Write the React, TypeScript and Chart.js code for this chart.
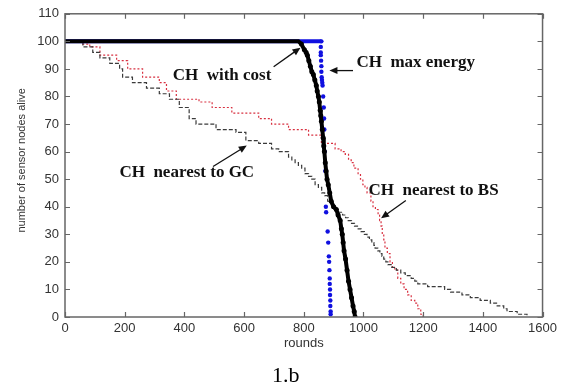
import React, { useEffect, useRef } from "react";
import { Chart, registerables } from "chart.js";

Chart.register(...registerables);

// ---- data ----
const xTickValues = [0, 200, 400, 600, 800, 1000, 1200, 1400, 1600];
const yTickValues = [0, 10, 20, 30, 40, 50, 60, 70, 80, 90, 100, 110];

const costRounds = [0, 782, 792, 802, 808, 812, 817, 822, 827, 832, 837, 842, 845, 849, 852, 855, 857, 859, 862, 865, 867, 869, 872, 875, 878, 882, 887, 892, 900, 909, 915, 922, 926, 929, 932, 935, 940, 945, 950, 955, 960, 965, 969, 972];
const costAlive = [100, 100, 99, 97, 96, 95, 93, 91, 89, 88, 86, 84, 82, 80, 78, 75, 73, 71, 68, 65, 62, 60, 56, 53, 50, 48, 45, 42, 40, 39, 37, 35, 32, 30, 27, 24, 21, 17, 13, 10, 7, 4, 2, 0];

const maxEnergyRounds = [0, 859, 857, 857, 857, 858, 859, 859, 860, 861, 862, 863, 865, 867, 868, 869, 870, 872, 874, 875, 880, 882, 884, 885, 886, 887, 887, 888, 888, 889, 889, 890, 890];
const maxEnergyAlive = [100, 100, 98, 96, 95, 93, 91, 89, 87, 86, 85, 84, 80, 76, 72, 68, 60, 53, 40, 38, 31, 27, 22, 20, 17, 14, 12, 10, 8, 6, 4, 2, 1];

const bsRounds = [0, 55, 60, 83, 117, 173, 210, 260, 316, 340, 373, 449, 493, 559, 649, 692, 749, 816, 859, 905, 925, 939, 950, 959, 968, 982, 990, 998, 1005, 1012, 1025, 1032, 1040, 1049, 1054, 1059, 1063, 1068, 1072, 1080, 1089, 1097, 1105, 1115, 1125, 1136, 1148, 1160, 1172, 1182, 1192, 1200];
const bsAlive = [100, 100, 99, 98, 95, 93, 90, 87, 85, 82, 79, 78, 76, 74, 72, 70, 68, 66, 63, 61, 60, 59, 57, 56, 54, 52, 50, 48, 47, 45, 42, 40, 39, 37, 35, 33, 30, 28, 25, 23, 20, 18, 17, 14, 12, 10, 8, 6, 5, 3, 1, 0];

const gcRounds = [0, 55, 60, 93, 117, 150, 183, 193, 226, 273, 316, 350, 383, 416, 439, 506, 573, 606, 649, 692, 716, 749, 760, 771, 782, 793, 804, 816, 827, 838, 849, 860, 870, 880, 892, 905, 918, 930, 940, 949, 960, 970, 980, 992, 1003, 1012, 1020, 1028, 1035, 1039, 1048, 1055, 1062, 1068, 1075, 1082, 1095, 1110, 1125, 1140, 1160, 1172, 1182, 1215, 1272, 1292, 1330, 1358, 1391, 1425, 1448, 1470, 1481, 1515, 1548];
const gcAlive = [100, 100, 98, 96, 94, 92, 90, 87, 85, 83, 81, 79, 76, 72, 70, 68, 67, 64, 63, 61, 60, 58, 57, 56, 55, 54, 52, 51, 50, 48, 47, 45, 44, 42, 40, 39, 38, 37, 36, 35, 34, 33, 32, 31, 30, 29, 28, 27, 26, 25, 24, 23, 22, 21, 20, 19, 18, 17, 16, 15, 14, 13, 12, 11, 10, 9, 8, 7, 6, 5, 4, 3, 2, 1, 0];

const annotationTexts = ["CH  with cost", "CH  max energy", "CH  nearest to GC", "CH  nearest to BS"];
const annotationTextAt = [[526, 87.6], [1175, 92.3], [408, 52.4], [1235, 45.9]];
const arrowFrom = [[699, 90.8], [965, 89.4], [496, 54.6], [1142, 42.3]];
const arrowTo = [[789, 97.7], [886, 89.4], [609, 62.2], [1059, 35.8]];

const xTitle = "rounds";
const yTitle = "number of sensor nodes alive";
const caption = "1.b";

const toXY = (xs: number[], ys: number[]) => xs.map((x, i) => ({ x, y: ys[i] }));

const overlayPlugin = {
  id: "overlay",
  afterDraw(chart: any) {
    const ctx = chart.ctx as CanvasRenderingContext2D;
    const { left, right, top, bottom } = chart.chartArea;
    const xs = chart.scales.x;
    const ys = chart.scales.y;
    ctx.save();
    // box
    ctx.strokeStyle = "#666";
    ctx.lineWidth = 1.5;
    ctx.strokeRect(left, top, right - left, bottom - top);
    // inward ticks
    ctx.lineWidth = 1.2;
    const tl = 5;
    ctx.beginPath();
    xTickValues.forEach((v) => {
      const p = Math.round(xs.getPixelForValue(v)) + 0.5;
      ctx.moveTo(p, bottom);
      ctx.lineTo(p, bottom - tl);
      ctx.moveTo(p, top);
      ctx.lineTo(p, top + tl);
    });
    yTickValues.forEach((v) => {
      const p = Math.round(ys.getPixelForValue(v)) + 0.5;
      ctx.moveTo(left, p);
      ctx.lineTo(left + tl, p);
      ctx.moveTo(right, p);
      ctx.lineTo(right - tl, p);
    });
    ctx.stroke();

    // annotations
    ctx.fillStyle = "#111";
    ctx.strokeStyle = "#111";
    ctx.font = "bold 17px 'Liberation Serif'";
    ctx.textAlign = "center";
    ctx.textBaseline = "middle";
    annotationTexts.forEach((t, i) => {
      ctx.fillText(t, xs.getPixelForValue(annotationTextAt[i][0]), ys.getPixelForValue(annotationTextAt[i][1]));
      const x1 = xs.getPixelForValue(arrowFrom[i][0]);
      const y1 = ys.getPixelForValue(arrowFrom[i][1]);
      const x2 = xs.getPixelForValue(arrowTo[i][0]);
      const y2 = ys.getPixelForValue(arrowTo[i][1]);
      const ang = Math.atan2(y2 - y1, x2 - x1);
      const hl = 8;
      const hw = 3.5;
      ctx.lineWidth = 1.3;
      ctx.beginPath();
      ctx.moveTo(x1, y1);
      ctx.lineTo(x2 - Math.cos(ang) * hl * 0.8, y2 - Math.sin(ang) * hl * 0.8);
      ctx.stroke();
      ctx.beginPath();
      ctx.moveTo(x2, y2);
      ctx.lineTo(x2 - Math.cos(ang) * hl - Math.sin(ang) * hw, y2 - Math.sin(ang) * hl + Math.cos(ang) * hw);
      ctx.lineTo(x2 - Math.cos(ang) * hl + Math.sin(ang) * hw, y2 - Math.sin(ang) * hl - Math.cos(ang) * hw);
      ctx.closePath();
      ctx.fill();
    });

    // axis titles
    ctx.fillStyle = "#333";
    ctx.font = "13px 'Liberation Sans'";
    ctx.textAlign = "center";
    ctx.textBaseline = "middle";
    ctx.fillText(xTitle, (left + right) / 2, bottom + 26);
    ctx.save();
    ctx.translate(left - 43, (top + bottom) / 2 - 5);
    ctx.rotate(-Math.PI / 2);
    ctx.font = "11px 'Liberation Sans'";
    ctx.fillText(yTitle, 0, 0);
    ctx.restore();

    // caption
    ctx.fillStyle = "#000";
    ctx.font = "22px 'Liberation Serif'";
    ctx.fillText(caption, (left + right) / 2 - 18, bottom + 59);
    ctx.restore();
  },
};

export default function App() {
  const ref = useRef<HTMLCanvasElement | null>(null);
  useEffect(() => {
    if (!ref.current) return;
    const chart = new Chart(ref.current, {
      type: "scatter",
      data: {
        datasets: [
          {
            label: "CH with cost",
            data: toXY(costRounds, costAlive),
            showLine: true,
            borderColor: "#000",
            backgroundColor: "#000",
            borderWidth: 4,
            pointRadius: (c: any) => (c.dataIndex < 2 ? 0 : 2.5),
            pointBorderWidth: 0,
            order: 0,
          },
          {
            label: "CH max energy",
            data: toXY(maxEnergyRounds, maxEnergyAlive),
            showLine: true,
            borderColor: "#1010e0",
            backgroundColor: "#1010e0",
            borderWidth: 4,
            segment: {
              borderColor: (c: any) => (c.p0DataIndex >= 1 ? "rgba(0,0,0,0)" : undefined),
            },
            pointRadius: (c: any) => (c.dataIndex < 1 ? 0 : 2.2),
            pointBorderWidth: 0,
            order: 1,
          },
          {
            label: "CH nearest to GC",
            data: toXY(gcRounds, gcAlive),
            showLine: true,
            stepped: "before",
            borderColor: "#3a3a3a",
            borderWidth: 1.2,
            borderDash: [4, 2],
            pointRadius: 0,
            order: 2,
          },
          {
            label: "CH nearest to BS",
            data: toXY(bsRounds, bsAlive),
            showLine: true,
            stepped: "before",
            borderColor: "#d83040",
            borderWidth: 1.2,
            borderDash: [2, 2],
            pointRadius: 0,
            order: 3,
          },
        ],
      },
      options: {
        animation: false,
        responsive: true,
        maintainAspectRatio: false,
        layout: { padding: { top: 13, right: 15, left: 0, bottom: 0 } },
        plugins: { legend: { display: false }, tooltip: { enabled: false } },
        scales: {
          x: {
            type: "linear",
            min: 0,
            max: 1600,
            grid: { display: false, drawTicks: false },
            border: { display: false },
            ticks: {
              font: { family: "'Liberation Sans'", size: 13 },
              color: "#333",
              padding: 4,
              maxRotation: 0,
              callback: (v: any) => String(v),
            },
            afterBuildTicks: (s: any) => {
              s.ticks = xTickValues.map((v) => ({ value: v }));
            },
            afterFit: (s: any) => {
              s.height = 72;
            },
          },
          y: {
            min: 0,
            max: 110,
            grid: { display: false, drawTicks: false },
            border: { display: false },
            ticks: {
              font: { family: "'Liberation Sans'", size: 13 },
              color: "#333",
              padding: 6,
              callback: (v: any) => String(v),
            },
            afterBuildTicks: (s: any) => {
              s.ticks = yTickValues.map((v) => ({ value: v }));
            },
            afterFit: (s: any) => {
              s.width = 65;
            },
          },
        },
      },
      plugins: [overlayPlugin],
    } as any);
    return () => chart.destroy();
  }, []);
  return (
    <div style={{ position: "fixed", left: 0, top: 0, width: 561, height: 389, background: "#fff" }}>
      <canvas ref={ref} />
    </div>
  );
}
